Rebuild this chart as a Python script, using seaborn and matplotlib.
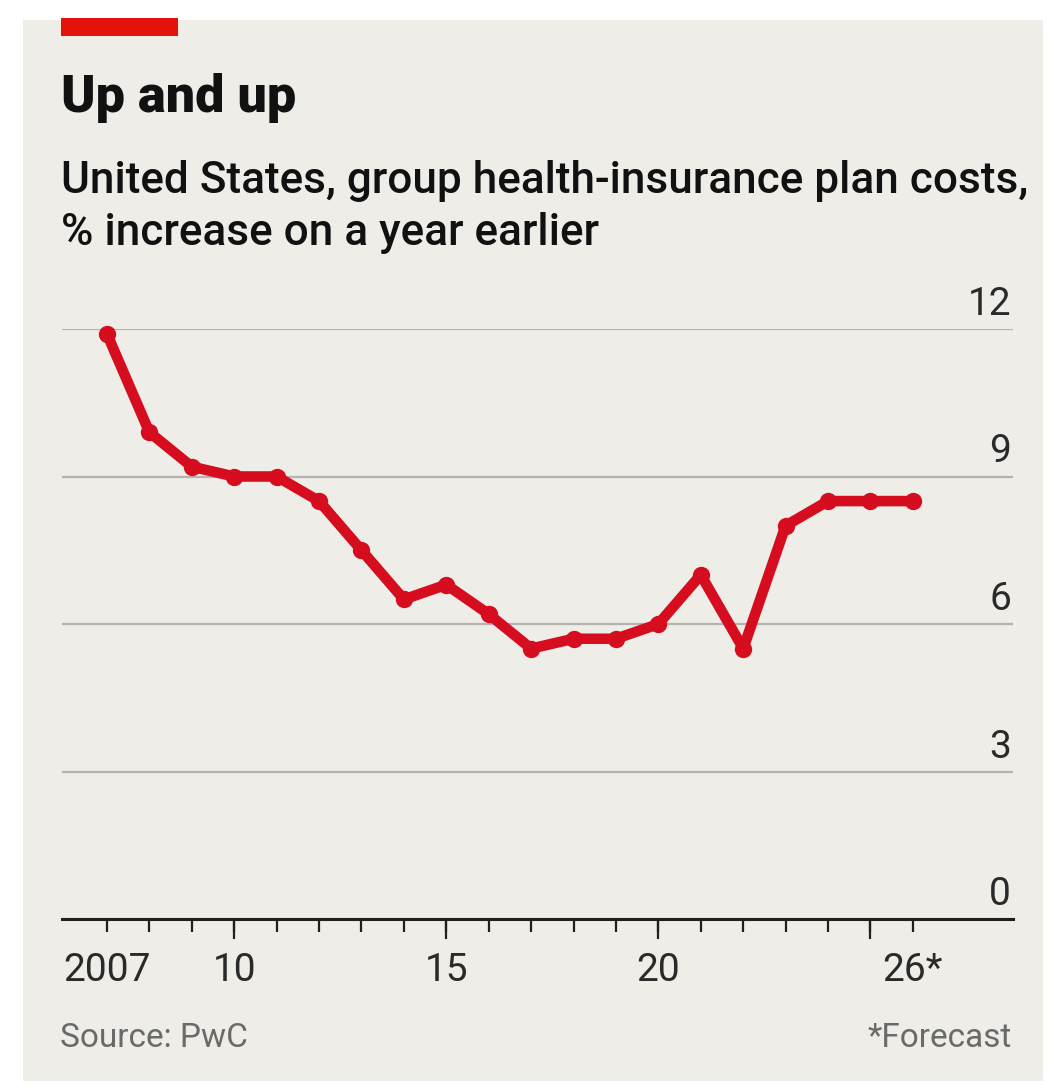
import matplotlib
matplotlib.use("Agg")
import matplotlib.pyplot as plt
from matplotlib.patches import Rectangle
from matplotlib.transforms import offset_copy
import seaborn as sns
import pandas as pd

# Group health-insurance plan cost growth, % on a year earlier
years = list(range(2007, 2027))
cost_increase = [11.9, 9.9, 9.2, 9.0, 9.0, 8.5, 7.5, 6.5, 6.8, 6.2,
                 5.5, 5.7, 5.7, 6.0, 7.0, 5.5, 8.0, 8.5, 8.5, 8.5]

y_ticks = [0, 3, 6, 9, 12]
x_label_years = [2007, 2010, 2015, 2020, 2026]
x_label_text = ["2007", "10", "15", "20", "26*"]
x_long_ticks = [2010, 2015, 2020, 2025]

title = "Up and up"
subtitle_lines = ["United States, group health-insurance plan costs,",
                  "% increase on a year earlier"]
source = "Source: PwC"
footnote = "*Forecast"

RED = "#d60d1e"
RED_BAR = "#e3120b"
PANEL = "#eeede8"
GRID = "#b4b3af"
DARK = "#1f1f1f"
TICK_TEXT = "#2a2a2a"
GREY = "#6a6a6a"

sns.set_style("white")
plt.rcParams["font.family"] = ["Roboto", "DejaVu Sans"]

W, H = 1050, 1086
fig = plt.figure(figsize=(W / 100, H / 100), dpi=100, facecolor="white")


def fx(px):
    return px / W


def fy(py):
    return 1 - py / H


# background panel and the red flag at its top
fig.patches.append(Rectangle((fx(23), fy(1081)), fx(1043) - fx(23), fy(20) - fy(1081),
                             transform=fig.transFigure, facecolor=PANEL,
                             edgecolor="none", zorder=-2))
fig.patches.append(Rectangle((fx(61), fy(36)), fx(178) - fx(61), fy(18) - fy(36),
                             transform=fig.transFigure, facecolor=RED_BAR,
                             edgecolor="none", zorder=-1))

ax = fig.add_axes([fx(62), fy(919), fx(1013) - fx(62), fy(329) - fy(919)])
ax.set_facecolor("none")
ax.set_zorder(1)

df = pd.DataFrame({"year": years, "pct": cost_increase})
sns.lineplot(data=df, x="year", y="pct", ax=ax, color=RED, linewidth=7.6,
             marker="o", markersize=12.5, markeredgewidth=0, clip_on=False,
             zorder=5)

ax.set_xlim(2005.94, 2028.36)
ax.set_ylim(0, 12)
ax.set_xlabel("")
ax.set_ylabel("")

# x axis: short ticks every year, long ticks every five years
ax.set_xticks(x_long_ticks)
ax.set_xticklabels([""] * len(x_long_ticks))
ax.set_xticks(years, minor=True)
minor_labels = [x_label_text[x_label_years.index(y)] if y in x_label_years else ""
                for y in years]
ax.set_xticklabels(minor_labels, minor=True)
ax.xaxis.remove_overlapping_locs = False
ax.tick_params(axis="x", which="major", bottom=True, direction="out",
               length=20 * 0.72, width=1.6, color=DARK)
ax.tick_params(axis="x", which="minor", bottom=True, direction="out",
               length=13 * 0.72, width=1.6, color=DARK, pad=20 * 0.72,
               labelsize=28, labelcolor=TICK_TEXT)

# y axis: gridlines with labels sitting above them on the right
ax.set_yticks(y_ticks)
ax.tick_params(axis="y", left=False, right=False, labelleft=False)
ax.grid(axis="y", color=GRID, linewidth=1.6)
ax.grid(axis="x", visible=False)
ax.set_axisbelow(True)
label_trans = offset_copy(ax.get_yaxis_transform(), fig=fig, x=-2, y=14, units="dots")
for v in y_ticks:
    ax.text(1.0, v, str(v), transform=label_trans, ha="right", va="baseline",
            fontsize=28, color=TICK_TEXT)

for side in ["left", "top", "right"]:
    ax.spines[side].set_visible(False)
ax.spines["bottom"].set_linewidth(2.2)
ax.spines["bottom"].set_color(DARK)
ax.spines["bottom"].set_zorder(4)

# headings and footer
fig.text(fx(61), fy(112), title, fontsize=37.5, fontweight="heavy", color="#111111",
         ha="left", va="baseline")
fig.text(fx(61), fy(193), subtitle_lines[0], fontsize=31.8, fontweight="medium",
         color="#111111", ha="left", va="baseline")
fig.text(fx(61), fy(245), subtitle_lines[1], fontsize=31.8, fontweight="medium",
         color="#111111", ha="left", va="baseline")
fig.text(fx(60), fy(1047), source, fontsize=24, color=GREY, ha="left", va="baseline")
fig.text(fx(1012), fy(1047), footnote, fontsize=24, color=GREY, ha="right", va="baseline")

fig.savefig("out.png", dpi=100, facecolor="white")
